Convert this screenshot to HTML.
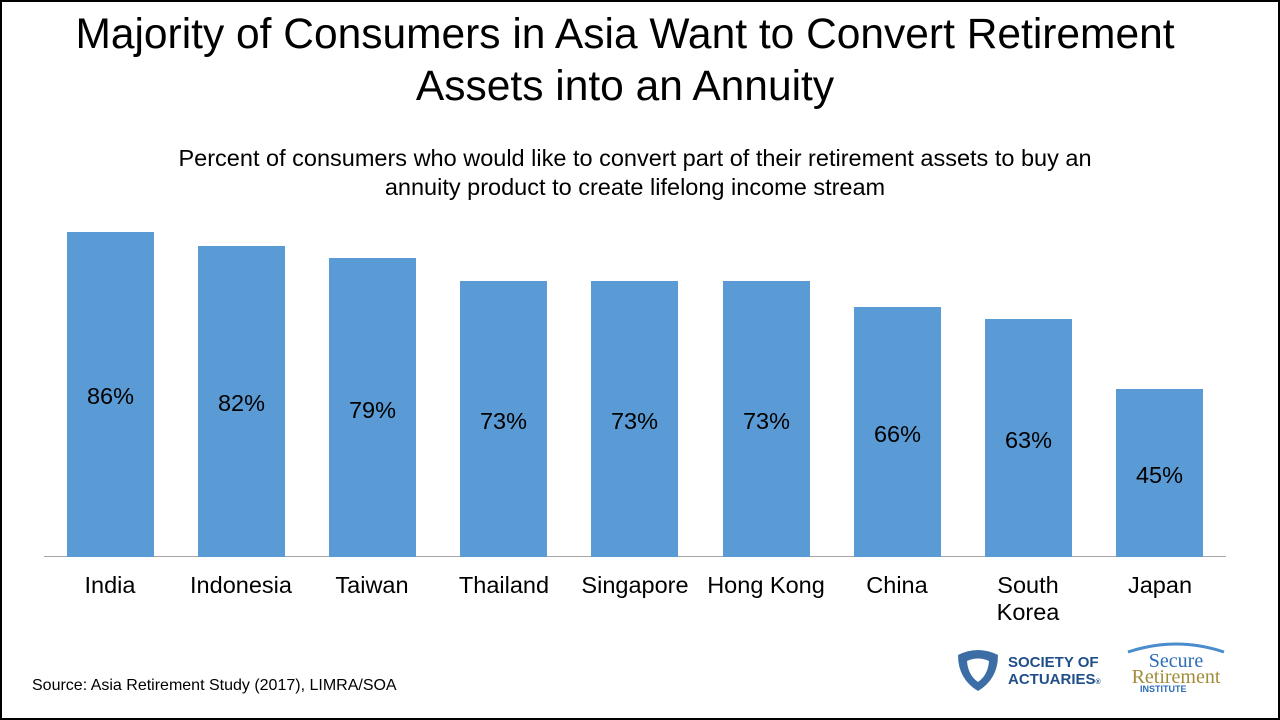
<!DOCTYPE html>
<html><head><style>
body{margin:0;width:1280px;height:720px;overflow:hidden;background:#fff;font-family:"Liberation Sans",Arial,sans-serif;}
#f{position:absolute;left:0;top:0;width:1276px;height:716px;border:2px solid #000;}
.t{position:absolute;left:0;width:1250px;text-align:center;color:#000;}
.bar{position:absolute;background:#5b9bd5;width:87px;}
.v{position:absolute;width:87px;text-align:center;font-size:23.5px;color:#000;}
.l{position:absolute;width:140px;text-align:center;font-size:23.5px;line-height:27px;color:#000;top:572px;}
</style></head><body>
<div id="f"></div>
<div class="t" style="top:9px;font-size:42.5px;line-height:52px;">Majority of Consumers in Asia Want to Convert Retirement<br>Assets into an Annuity</div>
<div class="t" style="top:144px;left:10px;font-size:23.5px;line-height:29px;">Percent of consumers who would like to convert part of their retirement assets to buy an<br>annuity product to create lifelong income stream</div>
<div style="position:absolute;left:44px;top:556px;width:1182px;height:1px;background:#a6a6a6"></div>
<div class="bar" style="left:67px;top:232px;height:325px"></div><div class="v" style="left:67px;top:383px">86%</div><div class="l" style="left:40px">India</div>
<div class="bar" style="left:198px;top:246px;height:311px"></div><div class="v" style="left:198px;top:390px">82%</div><div class="l" style="left:171px">Indonesia</div>
<div class="bar" style="left:329px;top:258px;height:299px"></div><div class="v" style="left:329px;top:397px">79%</div><div class="l" style="left:302px">Taiwan</div>
<div class="bar" style="left:460px;top:281px;height:276px"></div><div class="v" style="left:460px;top:408px">73%</div><div class="l" style="left:434px">Thailand</div>
<div class="bar" style="left:591px;top:281px;height:276px"></div><div class="v" style="left:591px;top:408px">73%</div><div class="l" style="left:565px">Singapore</div>
<div class="bar" style="left:723px;top:281px;height:276px"></div><div class="v" style="left:723px;top:408px">73%</div><div class="l" style="left:696px">Hong Kong</div>
<div class="bar" style="left:854px;top:307px;height:250px"></div><div class="v" style="left:854px;top:421px">66%</div><div class="l" style="left:827px">China</div>
<div class="bar" style="left:985px;top:319px;height:238px"></div><div class="v" style="left:985px;top:427px">63%</div><div class="l" style="left:958px">South<br>Korea</div>
<div class="bar" style="left:1116px;top:389px;height:168px"></div><div class="v" style="left:1116px;top:462px">45%</div><div class="l" style="left:1090px">Japan</div>
<div style="position:absolute;left:32px;top:677px;font-size:16px;color:#000;">Source: Asia Retirement Study (2017), LIMRA/SOA</div>
<svg style="position:absolute;left:954px;top:647px" width="50" height="46"><path d="M4,8 Q24,-2 44,8 Q44,32 24,44 Q4,32 4,8Z" fill="#3c6ea5"/><path d="M13,14 Q24,9 35,14 Q34,28 24,35 Q14,28 13,14Z" fill="#fff"/></svg>
<div style="position:absolute;left:1008px;top:654px;font-size:15px;font-weight:bold;line-height:17px;color:#1f4e89;">SOCIETY OF<br>ACTUARIES<span style="font-size:7px">®</span></div>
<svg style="position:absolute;left:1126px;top:640px" width="100" height="14"><path d="M2,12 Q50,-4 98,12" stroke="#4a8ccc" stroke-width="3" fill="none"/></svg>
<div style="position:absolute;left:1130px;top:653px;font-family:'Liberation Serif',serif;font-size:20px;line-height:16px;color:#a08c3a;text-align:center;width:92px"><span style="color:#2a6db5">Secure</span><br>Retirement</div>
<div style="position:absolute;left:1140px;top:684px;font-size:9px;font-weight:bold;color:#2a6db5;">INSTITUTE</div>
</body></html>
